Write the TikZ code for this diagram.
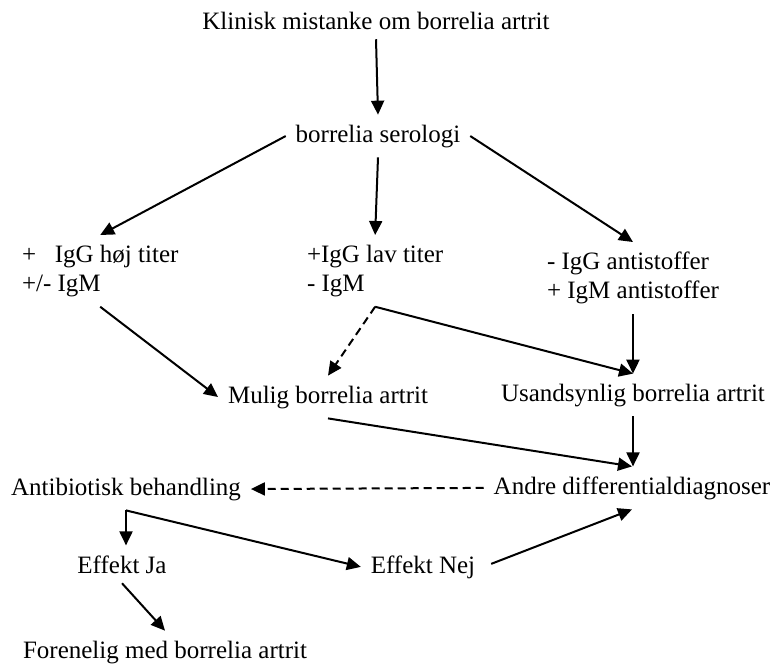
\documentclass[tikz,border=0pt]{standalone}
\usepackage{fontspec}
\setmainfont{Liberation Serif}
\usetikzlibrary{arrows.meta,calc,positioning}

\tikzset{
    box/.style={inner sep=0pt, outer sep=5pt, font=\fontsize{12.5}{14.5}\selectfont},
    multi/.style={box, align=left, anchor=north west},
    arr/.style={-{Triangle[length=7pt,width=6.5pt]}, line width=1pt},
    dasharr/.style={arr, dash pattern=on 4pt off 2.5pt},
}

\begin{document}
\begin{tikzpicture}[x=0.5pt, y=-0.5pt]
        \useasboundingbox (0,0) rectangle (772,666);

        \node[box, anchor=base] (kl) at (376,29) {Klinisk mistanke om borrelia artrit};
        \node[box, anchor=base] (ser) at (378,142) {borrelia serologi};

        \node[multi] (hoj) at (12,235) {+\hspace{0.75em}IgG høj titer\\+/- IgM};
        \node[multi] (lav) at (297,235) {+IgG lav titer\\- IgM};
        \node[multi] (anti) at (537,242) {- IgG antistoffer\\+ IgM antistoffer};

        \node[box, anchor=base] (mulig) at (328,403) {Mulig borrelia artrit};
        \node[box, anchor=base] (usand) at (633,401) {Usandsynlig borrelia artrit};
        \node[box, anchor=base] (andre) at (632,494) {Andre differentialdiagnoser};
        \node[box, anchor=base] (antib) at (126,495) {Antibiotisk behandling};

        \node[box, anchor=base] (ja) at (122,573) {Effekt Ja};
        \node[box, anchor=base] (nej) at (423,573) {Effekt Nej};
        \node[box, anchor=base] (foren) at (165,658) {Forenelig med borrelia artrit};

        \draw[arr] (kl.south) -- (ser.north);
        \draw[arr] (ser.west) -- (hoj.north);
        \draw[arr] (ser.south) -- (lav.north);
        \draw[arr] (ser.east) -- (anti.north);

        \draw[arr] (hoj.south) -- (mulig.west);
        \draw[dasharr] (lav.south) -- (mulig.north);
        \draw[arr] (lav.south) -- (usand.north);
        \draw[arr] (anti.south) -- (anti.south |- usand.north);

        \draw[arr] (usand.south) -- (usand.south |- andre.north);
        \draw[arr] (mulig.south) -- (andre.north);
        \draw[dasharr] (andre.west) -- (antib.east); % dashed back to treatment

        \draw[arr] (antib.south) -- (antib.south |- ja.north);
        \draw[arr] (antib.south) -- (nej.west);
        \draw[arr] ($(nej.east)+(6,-3)$) -- (andre.south);
        \draw[arr] (ja.south) -- (foren.north);
\end{tikzpicture}
\end{document}
